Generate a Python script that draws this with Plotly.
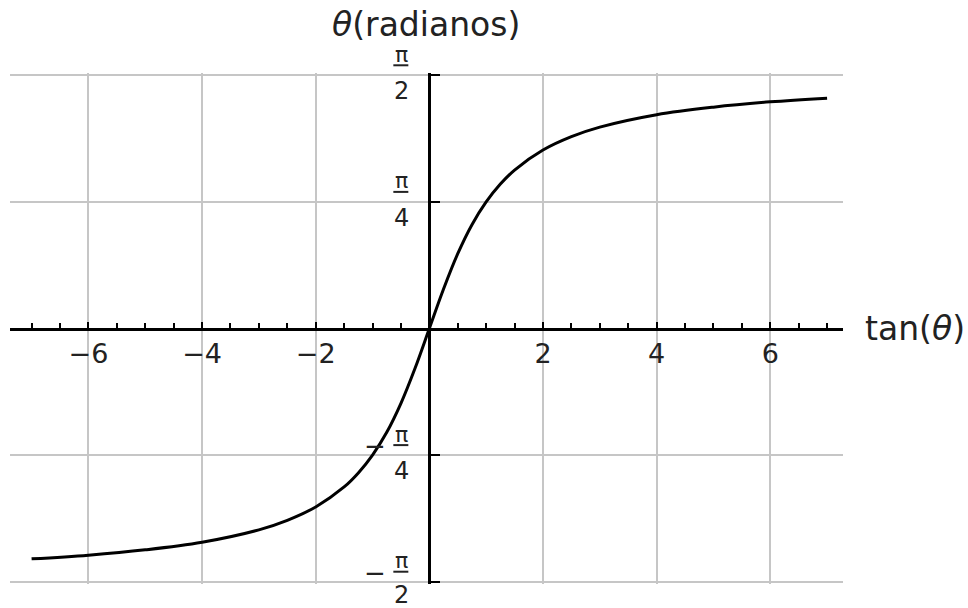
import plotly.graph_objects as go

# Curva: tan(θ) -> θ (radianes)
tan_theta = [-7, -6, -5, -4, -3, -2.5, -2, -1.5, -1.25, -1, -0.75, -0.5, -0.25, 0,
             0.25, 0.5, 0.75, 1, 1.25, 1.5, 2, 2.5, 3, 4, 5, 6, 7]
theta = [-1.429, -1.406, -1.373, -1.326, -1.249, -1.190, -1.107, -0.983, -0.896, -0.785,
         -0.644, -0.464, -0.245, 0.0,
         0.245, 0.464, 0.644, 0.785, 0.896, 0.983, 1.107, 1.190, 1.249, 1.326, 1.373, 1.406, 1.429]

# Ticks
x_ticks = [-6, -4, -2, 2, 4, 6]
x_labels = ["\u22126", "\u22124", "\u22122", "2", "4", "6"]
PI = 3.141592653589793
y_ticks = [-PI / 2, -PI / 4, 0, PI / 4, PI / 2]
y_frac = [("\u2212", "2"), ("\u2212", "4"), None, ("", "4"), ("", "2")]

X_RANGE = [-7.38, 7.28]
Y_RANGE = [-1.585, 1.585]
FONT = "DejaVu Sans"
Y_AXIS_POS = (0 - X_RANGE[0]) / (X_RANGE[1] - X_RANGE[0])

fig = go.Figure()
fig.add_trace(go.Scatter(x=tan_theta, y=theta, mode="lines", line_shape="spline",
                         line=dict(color="black", width=3), showlegend=False))

fig.update_xaxes(
    range=X_RANGE, tickvals=x_ticks, ticktext=x_labels,
    showgrid=True, gridcolor="#c6c6c6", gridwidth=2, zeroline=False,
    showline=True, linecolor="black", linewidth=3,
    anchor="free", position=0.5, side="bottom",
    ticks="inside", ticklen=6, tickwidth=2, tickcolor="black",
    ticklabelstandoff=0,
    tickfont=dict(family=FONT, size=27, color="#222"),
    minor=dict(dtick=0.5, tick0=0, ticks="inside", ticklen=5, tickwidth=2,
               tickcolor="black", showgrid=False),
)
fig.update_yaxes(
    range=Y_RANGE, tickvals=y_ticks, showticklabels=False,
    showgrid=True, gridcolor="#c6c6c6", gridwidth=2, zeroline=False,
    showline=True, linecolor="black", linewidth=3,
    anchor="free", position=Y_AXIS_POS, side="left",
    ticks="inside", ticklen=9, tickwidth=2, tickcolor="black",
)

# Etiquetas fraccionarias del eje θ
for yv, frac in zip(y_ticks, y_frac):
    if frac is None:
        continue
    sign, den = frac
    den_shift = -13 if yv < -1.5 else -16
    fig.add_annotation(x=0, y=yv, xref="x", yref="y", text="\u03c0", showarrow=False,
                       xshift=-28, yshift=21, font=dict(family=FONT, size=22, color="#222"))
    fig.add_annotation(x=0, y=yv, xref="x", yref="y", text=den, showarrow=False,
                       xshift=-28, yshift=den_shift, font=dict(family=FONT, size=24, color="#222"))
    # barra de la fracción (en coordenadas "paper" para que no se recorte)
    fig.add_shape(type="line", xref="paper", yref="paper", xsizemode="pixel", ysizemode="pixel",
                  xanchor=Y_AXIS_POS, yanchor=(yv - Y_RANGE[0]) / (Y_RANGE[1] - Y_RANGE[0]),
                  x0=-36, x1=-21, y0=10, y1=10,
                  line=dict(color="#222", width=2))
    if sign:
        fig.add_annotation(x=0, y=yv, xref="x", yref="y", text=sign, showarrow=False,
                           xshift=-54, yshift=9, font=dict(family=FONT, size=26, color="#222"))

# Títulos de los ejes
fig.add_annotation(x=0, y=1, xref="x", yref="paper", text="<i>\u03b8</i>(radianos)",
                   showarrow=False, yanchor="bottom", xshift=-3, yshift=27,
                   font=dict(family=FONT, size=33, color="#222"))
fig.add_annotation(x=1, y=0, xref="paper", yref="y", text="tan(<i>\u03b8</i>)",
                   showarrow=False, xanchor="left", xshift=20,
                   font=dict(family=FONT, size=33, color="#222"))

fig.update_layout(
    width=968, height=608,
    margin=dict(l=10, r=125, t=73, b=24),
    plot_bgcolor="white", paper_bgcolor="white",
)

fig.write_html("out.html", config={"displayModeBar": False},
               post_script="document.body.style.margin='0';")
